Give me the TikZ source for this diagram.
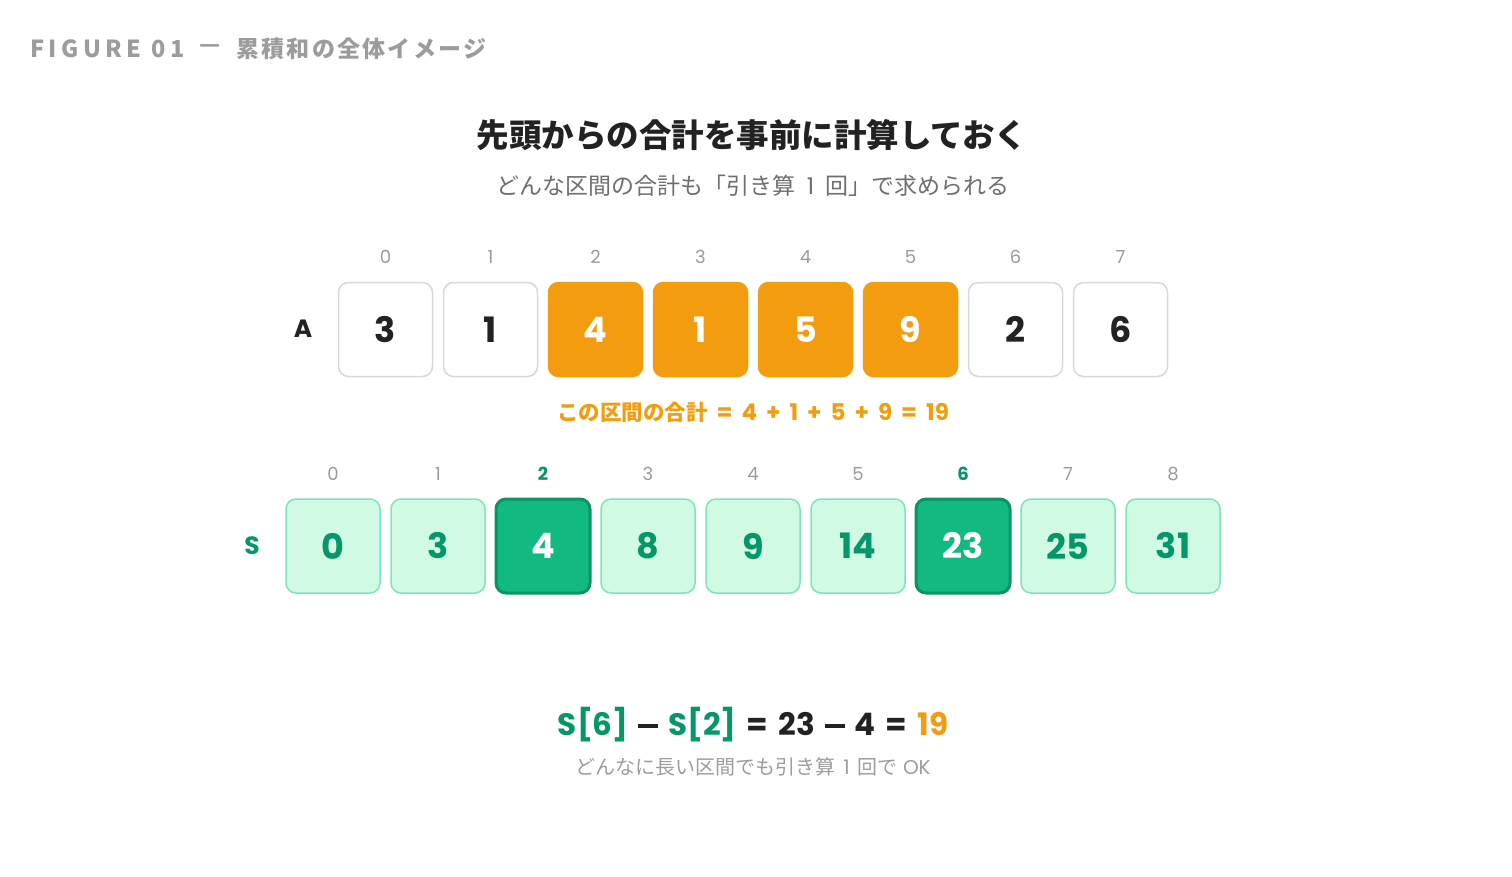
\documentclass[tikz,border=0pt]{standalone}
\usepackage{fontspec}
\setmainfont{Noto Sans CJK JP}
\newfontfamily\lat{Poppins}
\newcommand{\gp}{\hspace{9pt}}
\newcommand{\mn}{\hspace{10pt}\rule[8pt]{20pt}{4pt}\hspace{10pt}}
\definecolor{orng}{HTML}{F39C0F}
\definecolor{gdark}{HTML}{059669}
\definecolor{glight}{HTML}{D1FAE5}
\definecolor{gborder}{HTML}{7EE4B9}
\definecolor{ghi}{HTML}{12B981}
\definecolor{ghib}{HTML}{0A9466}
\definecolor{idxgray}{HTML}{9A9A9A}
\definecolor{wborder}{HTML}{D8D8D8}
\definecolor{ink}{HTML}{222222}
\definecolor{subgray}{HTML}{6E6E6E}
\definecolor{lightgray}{HTML}{9C9C9C}
\tikzset{
  cell/.style={minimum width=94pt, minimum height=94pt, rounded corners=10pt, inner sep=0pt,
    font=\lat\fontsize{35}{35}\selectfont\bfseries, line width=1.5pt},
  acell/.style={cell, draw=wborder, fill=white, text=ink},
  ocell/.style={cell, draw=orng, fill=orng, text=white},
  scell/.style={cell, draw=gborder, fill=glight, text=gdark},
  hcell/.style={cell, draw=ghib, fill=ghi, text=white, line width=3pt},
  idx/.style={font=\lat\fontsize{18}{18}\selectfont, text=idxgray, inner sep=0pt},
  hidx/.style={font=\lat\fontsize{18}{18}\selectfont\bfseries, text=gdark, inner sep=0pt},
  rowlab/.style={font=\lat\fontsize{25}{25}\selectfont\bfseries, inner sep=0pt},
  hdrtxt/.style={inner sep=0pt, text=lightgray}
}
\begin{document}
\begin{tikzpicture}[x=1pt,y=-1pt]
\useasboundingbox (0,0) rectangle (1512,876);
% header
\node[hdrtxt, anchor=west, font=\fontsize{23.5}{23.5}\selectfont\bfseries\addfontfeature{LetterSpace=19}] (hdr) at (30,49) {FIGURE 01};
\node[hdrtxt, anchor=west, font=\fontsize{23}{23}\selectfont\bfseries] (hdash) at (199,49) {—};
\node[hdrtxt, anchor=west, font=\fontsize{23}{23}\selectfont\bfseries\addfontfeature{LetterSpace=10}] (hjp) at (236,49) {累積和の全体イメージ};
% title
\node[inner sep=0pt, text=ink, font=\fontsize{32.5}{32.5}\selectfont\bfseries] (title) at (752,135) {先頭からの合計を事前に計算しておく};
\node[inner sep=0pt, text=subgray, font=\fontsize{23}{23}\selectfont] (sub) at (753,186) {どんな区間の合計も「引き算\hspace{11pt}{\lat 1}\hspace{11pt}回」で求められる};
% array A
\node[rowlab, text=ink] (alab) at (303,329) {A};
\foreach \i/\v/\s in {0/3/acell,1/1/acell,2/4/ocell,3/1/ocell,4/5/ocell,5/9/ocell,6/2/acell,7/6/acell}{
  \node[\s] (a\i) at ({385.5+105*\i},329.5) {\v};
  \node[idx] (ai\i) at ({385.5+105*\i},257) {\i};
}
\node[inner sep=0pt, text=orng, font=\fontsize{21.5}{21.5}\selectfont\bfseries] (olab) at (753,412) {この区間の合計{\lat\fontsize{23}{23}\selectfont\gp=\gp4\gp+\gp1\gp+\gp5\gp+\gp9\gp=\gp19}};
% array S
\node[rowlab, text=gdark] (slab) at (252,546) {S};
\foreach \i/\v/\s/\t in {0/0/scell/idx,1/3/scell/idx,2/4/hcell/hidx,3/8/scell/idx,4/9/scell/idx,5/14/scell/idx,6/23/hcell/hidx,7/25/scell/idx,8/31/scell/idx}{
  \node[\s] (s\i) at ({333+105*\i},546) {\v};
  \node[\t] (si\i) at ({333+105*\i},474) {\i};
}
% formula
\node[inner sep=0pt, font=\lat\fontsize{31}{31}\selectfont\bfseries, text=ink] (form) at (753,725) {\textcolor{gdark}{S[6]}\mn\textcolor{gdark}{S[2]}\hspace{10pt}=\hspace{10pt}23\mn4\hspace{10pt}=\hspace{10pt}\textcolor{orng}{19}};
\node[inner sep=0pt, text=lightgray, font=\fontsize{20}{20}\selectfont] (note) at (753,767) {どんなに長い区間でも引き算\hspace{8pt}{\lat 1}\hspace{8pt}回で{\lat\ OK}};
\end{tikzpicture}
\end{document}
